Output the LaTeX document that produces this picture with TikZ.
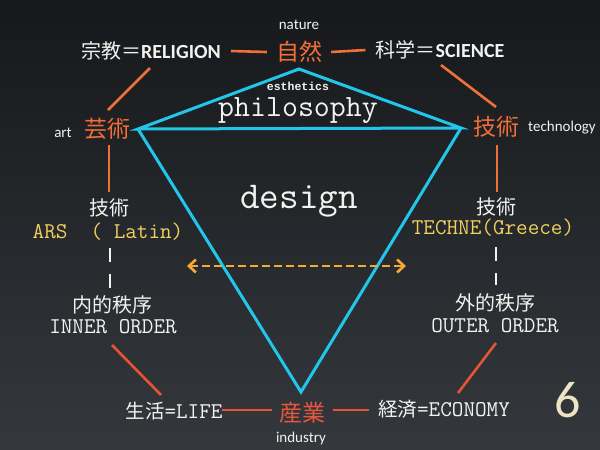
\documentclass[tikz,border=0pt]{standalone}
\usepackage{fontspec}
\setmainfont{Carlito}
\newfontfamily\cjk{Noto Sans CJK JP}
\newfontfamily\mono{Liberation Mono}
\usetikzlibrary{arrows.meta}
\definecolor{bgtop}{HTML}{16181B}
\definecolor{bgbot}{HTML}{34383C}
\definecolor{txtwhite}{HTML}{F2F2EE}
\definecolor{orng}{HTML}{F26E38}
\definecolor{redor}{HTML}{E8563C}
\definecolor{lineor}{HTML}{F0703A}
\definecolor{linered}{HTML}{E65438}
\definecolor{cyanl}{HTML}{22C6EA}
\definecolor{yel}{HTML}{F2D060}
\definecolor{arrc}{HTML}{F6AA36}
\definecolor{cream}{HTML}{ECE4C4}
\begin{document}
\begin{tikzpicture}[x=1pt,y=-1pt,
  every node/.style={inner sep=0pt, text=txtwhite},
  small/.style={font=\fontsize{15}{18}\selectfont},
  eng/.style={font=\fontsize{20}{24}\selectfont},
  bigcjk/.style={font=\cjk\fontsize{23}{26}\selectfont, text=orng},
  midcjk/.style={font=\cjk\fontsize{20}{24}\selectfont},
  monotxt/.style={font=\ttfamily\fontsize{22.5}{24}\selectfont},
  conn/.style={draw=lineor, line width=2.6pt},
  connb/.style={draw=linered, line width=2.6pt},
  dashv/.style={draw=txtwhite, line width=2pt, dash pattern=on 14pt off 12pt},
  tri/.style={draw=cyanl, line width=3pt, line join=miter},
  arr/.style={draw=arrc, line width=2.6pt, dash pattern=on 8pt off 4pt,
    {Straight Barb[length=7pt,width=13pt,line width=2.6pt]}-{Straight Barb[length=7pt,width=13pt,line width=2.6pt]}}
]
\shade[top color=bgtop, bottom color=bgbot] (0,0) rectangle (600,450);
\useasboundingbox (0,0) rectangle (600,450);

% top row
\node[small] (nature) at (299,25) {nature};
\node[bigcjk] (shizen) at (299,52) {自然};
\node[eng] (relig) at (151,51) {{\cjk 宗教＝}\textbf{RELIGION}};
\node[eng] (sci) at (440,50) {{\cjk 科学＝}\textbf{SCIENCE}};

% second row
\node[small] (art) at (63,133) {art};
\node[bigcjk] (geijutsu) at (107,129) {芸術};
\node[bigcjk] (gijutsuR) at (496,127) {技術};
\node[small] (tech) at (562,128) {technology};

% triangle
\coordinate (ttop) at (299,69);
\coordinate (tleft) at (138,129);
\coordinate (tright) at (461,128);
\coordinate (tbot) at (301,392);
\draw[tri] (tleft) -- (ttop) -- (tright) -- cycle;
\draw[tri] (tleft) -- (tbot) -- (tright);

\node[font=\mono\bfseries\fontsize{11.5}{13}\selectfont] (esth) at (298,86) {esthetics};
\node[font=\ttfamily\fontsize{31}{34}\selectfont] (philo) at (298,111) {philosophy};
\node[font=\ttfamily\fontsize{38}{40}\selectfont] (design) at (299,201) {design};

% left column
\node[midcjk] (gijutsuL) at (109,208) {技術};
\node[monotxt, text=yel] (ars) at (108,232) {ARS\ \ (\ Latin)};
\node[midcjk] (naiteki) at (112,305) {内的秩序};
\node[monotxt] (inner) at (113,327) {INNER ORDER};

% right column
\node[midcjk] (gijutsuR2) at (496,207) {技術};
\node[monotxt, text=yel] (techne) at (493,228) {TECHNE(Greece)};
\node[midcjk] (gaiteki) at (495,303) {外的秩序};
\node[monotxt] (outer) at (495,326) {OUTER ORDER};

% bottom row
\node[font=\ttfamily\fontsize{22.5}{24}\selectfont] (life) at (174,411) {{\cjk\fontsize{19.5}{24}\selectfont 生活}=LIFE};
\node[bigcjk, text=redor] (sangyo) at (302,413) {産業};
\node[font=\ttfamily\fontsize{22.5}{24}\selectfont] (econ) at (444,409) {{\cjk\fontsize{19.5}{24}\selectfont 経済}=ECONOMY};
\node[small] (industry) at (301,438) {industry};
\node[font=\fontsize{52}{56}\selectfont, text=cream] (six) at (568,400) {6};

% connectors top
\draw[conn] ([xshift=10pt]relig.east) -- ([xshift=-9pt]shizen.west);
\draw[conn] ([xshift=9pt]shizen.east) -- ([xshift=-10pt]sci.west);
\coordinate (rg1) at (150,68); \coordinate (rg2) at (108,110);
\draw[conn] (rg1) -- (rg2);
\coordinate (sc1) at (441,65); \coordinate (sc2) at (496,107);
\draw[conn] (sc1) -- (sc2);
\coordinate (gl1) at (109,145); \coordinate (gl2) at (109,192);
\draw[conn] (gl1) -- (gl2);
\coordinate (gr1) at (497,145); \coordinate (gr2) at (497,192);
\draw[conn] (gr1) -- (gr2);

% dashed verticals
\coordinate (dl1) at (110,248); \coordinate (dl2) at (110,288);
\draw[dashv] (dl1) -- (dl2);
\coordinate (dr1) at (496,247); \coordinate (dr2) at (496,285);
\draw[dashv] (dr1) -- (dr2);

% connectors bottom
\coordinate (il1) at (112,345); \coordinate (il2) at (161,395);
\draw[connb] (il1) -- (il2);
\coordinate (ol1) at (496,343); \coordinate (ol2) at (458,393);
\draw[connb] (ol1) -- (ol2);
\coordinate (lf1) at (222,410); \coordinate (lf2) at (272,410);
\draw[connb] (lf1) -- (lf2);
\coordinate (ec1) at (333,410); \coordinate (ec2) at (369,410);
\draw[connb] (ec1) -- (ec2);

% double arrow
\coordinate (al) at (187,266); \coordinate (ar) at (406,266);
\draw[arr] (al) -- (ar);
\end{tikzpicture}
\end{document}
